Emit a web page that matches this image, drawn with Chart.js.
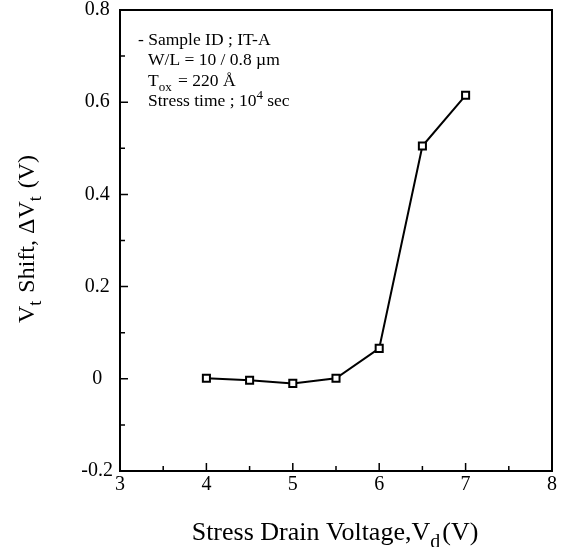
<!DOCTYPE html>
<html>
<head>
<meta charset="utf-8">
<script src="https://cdn.jsdelivr.net/npm/chart.js@4"></script>
<style>
  html, body { margin: 0; padding: 0; background: #fff; }
  #wrap { width: 566px; height: 547px; position: relative; }
</style>
</head>
<body>
<div id="wrap"><canvas id="chart" width="566" height="547"></canvas></div>
<script>
// data
var drainVoltage = [4, 4.5, 5, 5.5, 6, 6.5, 7];
var vtShift = [0.001, -0.003, -0.010, 0.001, 0.066, 0.505, 0.615];
var xTicks = [3, 4, 5, 6, 7, 8];
var yTicks = [-0.2, 0, 0.2, 0.4, 0.6, 0.8];
var noteLines = [
    [{ t: '- Sample ID ; IT-A' }],
    [{ t: 'W/L = 10 / 0.8 \u00b5m' }],
    [{ t: 'T' }, { t: 'ox', sub: true }, { t: ' = 220 \u00c5' }],
    [{ t: 'Stress time ; 10' }, { t: '4', sup: true }, { t: ' sec' }]
];
var xTitle = [{ t: 'Stress Drain Voltage,V' }, { t: 'd', sub: true }, { t: '(V)' }];
var yTitle = [{ t: 'V' }, { t: 't', sub: true }, { t: ' Shift, \u0394V' }, { t: 't', sub: true }, { t: ' (V)' }];

var serif = '"Liberation Serif", "DejaVu Serif", serif';

function drawRich(ctx, parts, x, y, size, align) {
    var small = Math.round(size * 0.75);
    var total = 0;
    parts.forEach(function (p) {
        ctx.font = (p.sub || p.sup ? small : size) + 'px ' + serif;
        total += ctx.measureText(p.t).width;
    });
    var cx = align === 'center' ? x - total / 2 : x;
    ctx.textBaseline = 'alphabetic';
    ctx.textAlign = 'left';
    parts.forEach(function (p) {
        var s = p.sub || p.sup ? small : size;
        ctx.font = s + 'px ' + serif;
        var dy = p.sub ? size * 0.3 : (p.sup ? -size * 0.42 : 0);
        ctx.fillText(p.t, cx, y + dy);
        cx += ctx.measureText(p.t).width + (p.sub ? 2 : 0);
    });
}

var frame = {
    id: 'frame',
    afterDraw: function (chart) {
        var ctx = chart.ctx;
        var a = chart.chartArea;
        var xs = chart.scales.x, ys = chart.scales.y;
        ctx.save();
        ctx.strokeStyle = '#000';
        ctx.lineWidth = 2;
        ctx.strokeRect(a.left, a.top, a.right - a.left, a.bottom - a.top);
        ctx.lineWidth = 1.5;
        ctx.beginPath();
        // inward ticks, major on labels, minor halfway
        for (var v = 3; v <= 8.001; v += 0.5) {
            var px = xs.getPixelForValue(v);
            var len = Math.abs(v - Math.round(v)) < 0.01 ? 8 : 5;
            ctx.moveTo(px, a.bottom); ctx.lineTo(px, a.bottom - len);
        }
        for (var w = -0.2; w <= 0.801; w += 0.1) {
            var py = ys.getPixelForValue(w);
            var major = Math.abs(w * 5 - Math.round(w * 5)) < 0.01;
            ctx.moveTo(a.left, py); ctx.lineTo(a.left + (major ? 8 : 5), py);
        }
        ctx.stroke();

        ctx.fillStyle = '#000';
        drawRich(ctx, noteLines[0], a.left + 18, 45, 17.5, 'left');
        for (var i = 1; i < noteLines.length; i++) {
            drawRich(ctx, noteLines[i], a.left + 28, 45 + i * 20.4, 17.5, 'left');
        }
        drawRich(ctx, xTitle, 334, 540, 26, 'center');

        ctx.translate(34, 241);
        ctx.rotate(-Math.PI / 2);
        drawRich(ctx, yTitle, 0, 0, 24, 'center');
        ctx.restore();
    }
};

new Chart(document.getElementById('chart'), {
    type: 'line',
    data: {
        datasets: [{
            data: drainVoltage.map(function (x, i) { return { x: x, y: vtShift[i] }; }),
            borderColor: '#000',
            borderWidth: 2,
            pointStyle: 'rect',
            pointRadius: 5,
            pointBorderWidth: 2,
            pointBorderColor: '#000',
            pointBackgroundColor: '#fff',
            tension: 0
        }, {
            data: drainVoltage.map(function (x, i) { return { x: x, y: vtShift[i] }; }),
            showLine: false,
            pointStyle: 'rect',
            pointRadius: 1.2,
            pointBorderWidth: 0,
            pointBackgroundColor: '#000'
        }]
    },
    options: {
        responsive: false,
        animation: false,
        layout: { padding: { top: 10, right: 14, left: 0, bottom: 0 } },
        plugins: { legend: { display: false }, tooltip: { enabled: false } },
        scales: {
            x: {
                type: 'linear',
                min: 3, max: 8,
                grid: { display: false, drawTicks: false },
                border: { display: false },
                afterBuildTicks: function (s) { s.ticks = xTicks.map(function (v) { return { value: v }; }); },
                afterFit: function (s) { s.height = 76; s.paddingLeft = 0; s.paddingRight = 0; },
                ticks: {
                    color: '#000',
                    font: { family: serif, size: 20 },
                    padding: 2,
                    maxRotation: 0,
                    callback: function (v) { return String(v); }
                }
            },
            y: {
                min: -0.2, max: 0.8,
                grid: { display: false, drawTicks: false },
                border: { display: false },
                afterBuildTicks: function (s) { s.ticks = yTicks.map(function (v) { return { value: v }; }); },
                afterFit: function (s) { s.width = 120; s.paddingTop = 0; s.paddingBottom = 0; },
                ticks: {
                    color: '#000',
                    font: { family: serif, size: 20 },
                    padding: 7,
                    crossAlign: 'center',
                    callback: function (v) { return String(Math.round(v * 10) / 10); }
                }
            }
        }
    },
    plugins: [frame]
});
</script>
</body>
</html>
